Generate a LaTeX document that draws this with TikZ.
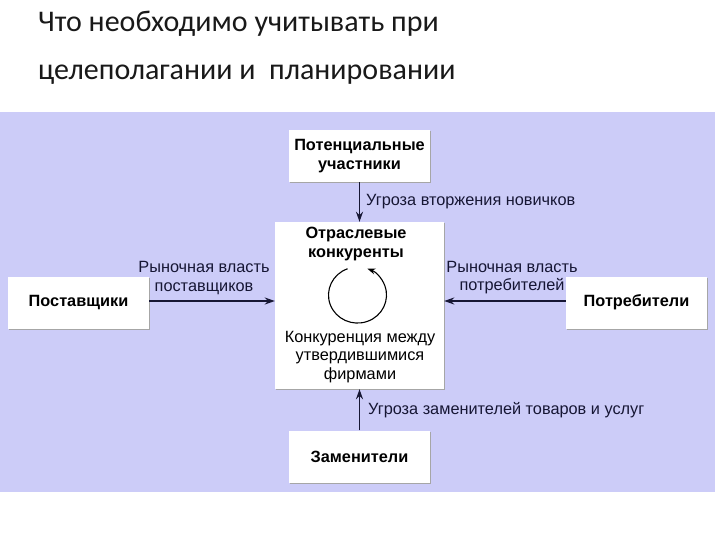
\documentclass[tikz,border=0pt]{standalone}
\usepackage{fontspec}
\setmainfont{Liberation Sans}
\newfontfamily\titlefont{Carlito}
\usetikzlibrary{arrows.meta,shadows}
\definecolor{panelblue}{RGB}{204,204,248}
\definecolor{arrowink}{RGB}{22,22,52}
\definecolor{titleink}{RGB}{25,25,25}
\begin{document}
\begin{tikzpicture}[x=1pt,y=-1pt,
    box/.style={fill=white, minimum width=141pt, minimum height=52pt, align=center, inner sep=0pt,
        font=\fontsize{16.3}{18.5}\selectfont\bfseries,
        drop shadow={shadow xshift=1.2pt, shadow yshift=-1.2pt, fill=black!35, opacity=1}},
    flow/.style={-{Stealth[length=10pt,width=7pt]}, line width=1.4pt, arrowink},
    note/.style={font=\fontsize{16.3}{18.5}\selectfont, align=center, inner sep=0pt}]
    \useasboundingbox (0,0) rectangle (720,540);
    \fill[white] (0,0) rectangle (720,540);
    \fill[panelblue] (0,112) rectangle (715,492);
    % title
    \node[anchor=base west, inner sep=0pt, titleink, font=\titlefont\fontsize{30}{30}\selectfont] (title1) at (38,32) {Что необходимо учитывать при};
    \node[anchor=base west, inner sep=0pt, titleink, font=\titlefont\fontsize{30}{30}\selectfont] (title2) at (38,80) {целеполагании и\ \ планировании};
    % forces
    \node[box, minimum width=169pt, minimum height=167pt] (rivals) at (359.5,305.5) {};
    \node[box] (entrants) at (359.5,156) {Потенциальные\\участники};
    \node[box] (suppliers) at (78.5,303) {Поставщики};
    \node[box] (buyers) at (636.5,302.5) {Потребители};
    \node[box] (substitutes) at (359.5,456.5) {Заменители};
    % inside the middle box
    \node[note, font=\fontsize{16.3}{19}\selectfont\bfseries] (rivalsTitle) at (356,243.5) {Отраслевые\\конкуренты};
    \node[note] (rivalry) at (360,357) {Конкуренция между\\утвердившимися\\фирмами};
    \draw[line width=1.1pt, -{Stealth[length=8pt,width=6pt]}] (357.5,296) ++(-110:29) arc[start angle=-110, end angle=-430, x radius=29, y radius=28];
    % connectors
    \draw[flow] (entrants) -- (rivals) node[midway, right, note, xshift=6pt] {Угроза вторжения новичков};
    \draw[flow] (substitutes) -- (rivals) node[midway, right, note, xshift=8pt] {Угроза заменителей товаров и услуг};
    \draw[flow] ([yshift=2pt]suppliers.east) -- ([yshift=2pt]suppliers.east -| rivals.west)
        node[midway, above, note, yshift=6pt, xshift=-8pt] {Рыночная власть\\поставщиков};
    \draw[flow] ([yshift=1.5pt]buyers.west) -- ([yshift=1.5pt]buyers.west -| rivals.east)
        node[midway, above, note, yshift=6pt, xshift=7pt] {Рыночная власть\\потребителей};
\end{tikzpicture}
\end{document}
